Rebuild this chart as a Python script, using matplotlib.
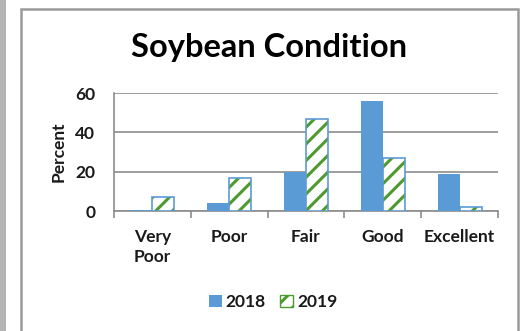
import matplotlib
matplotlib.use("Agg")
import matplotlib.pyplot as plt
import matplotlib.patches as mpatches
import numpy as np

categories = ["Very\nPoor", "Poor", "Fair", "Good", "Excellent"]
series_2018 = [0.5, 4, 20, 56, 19]
series_2019 = [7, 17, 47, 27, 2]
y_ticks = [0, 20, 40, 60]

BLUE = "#5B9BD5"
GREEN = "#4E9A2F"
GRID = "#8C8C8C"
TEXT = "#1A1A1A"
FS = 12.5

plt.rcParams["font.family"] = ["Lato", "DejaVu Sans"]
plt.rcParams["hatch.linewidth"] = 2.2

W, H = 521, 331
fig = plt.figure(figsize=(W / 100, H / 100), dpi=100)
fig.patch.set_facecolor("white")

# grey strip on the far left and the chart frame
fig.add_artist(mpatches.Rectangle((0, 0), 6 / W, 1, transform=fig.transFigure,
                                  facecolor="#B4B4B4", edgecolor="none"))
fig.add_artist(mpatches.Rectangle((20.5 / W, -0.05), (518 - 20.5) / W, 1.05 - 8.5 / H,
                                  transform=fig.transFigure, facecolor="none",
                                  edgecolor="#9A9A9A", linewidth=1.8))

ax = fig.add_axes([114 / W, 1 - 211 / H, (498 - 114) / W, (211 - 93) / H])
x = np.arange(len(categories))
bw = 0.286

ax.bar(x - bw / 2, series_2018, bw, color=BLUE, edgecolor="none", zorder=3)
ax.bar(x + bw / 2, series_2019, bw, color="white", edgecolor=GREEN, hatch="//",
       linewidth=0, zorder=3)
ax.bar(x + bw / 2, series_2019, bw, color="none", edgecolor=BLUE, linewidth=1.2, zorder=4)

ax.set_xlim(-0.5, len(categories) - 0.5)
ax.set_ylim(0, 60)
ax.set_yticks(y_ticks)
ax.yaxis.grid(True, color=GRID, linewidth=1.2, zorder=0)
ax.tick_params(axis="y", length=0, pad=13.5, labelsize=FS, labelcolor=TEXT)
for lab in ax.get_yticklabels():
    lab.set_fontweight("bold")

ax.set_xticks(np.arange(len(categories) + 1) - 0.5)
ax.set_xticklabels([])
ax.tick_params(axis="x", which="major", direction="out", length=5, width=1.2, color=GRID)
ax.set_xticks(x, minor=True)
ax.set_xticklabels(categories, minor=True, fontsize=FS, fontweight="bold", color=TEXT,
                   va="top", linespacing=1.3)
ax.tick_params(axis="x", which="minor", length=0, pad=13)

for s in ["top", "right"]:
    ax.spines[s].set_visible(False)
ax.spines["left"].set_color(GRID)
ax.spines["left"].set_linewidth(1.2)
ax.spines["bottom"].set_color(GRID)
ax.spines["bottom"].set_linewidth(1.2)

ax.set_ylabel("Percent", fontsize=FS, fontweight="bold", color=TEXT, labelpad=6)

fig.text(269 / W, 1 - 47 / H, "Soybean Condition", ha="center", va="center",
         fontsize=23.5, fontweight="bold", color="black")

h1 = mpatches.Patch(facecolor=BLUE, edgecolor="none", label="2018")
h2 = mpatches.Patch(facecolor="white", edgecolor=GREEN, hatch="//", label="2019")
leg = fig.legend(handles=[h1, h2], loc="center", bbox_to_anchor=(273 / W, 1 - 302 / H),
                 ncol=2, frameon=False, handlelength=0.75, handleheight=0.75,
                 handletextpad=0.25, columnspacing=0.8,
                 prop={"weight": "bold", "size": FS})
for t in leg.get_texts():
    t.set_color(TEXT)

fig.savefig("out.png", dpi=100)
